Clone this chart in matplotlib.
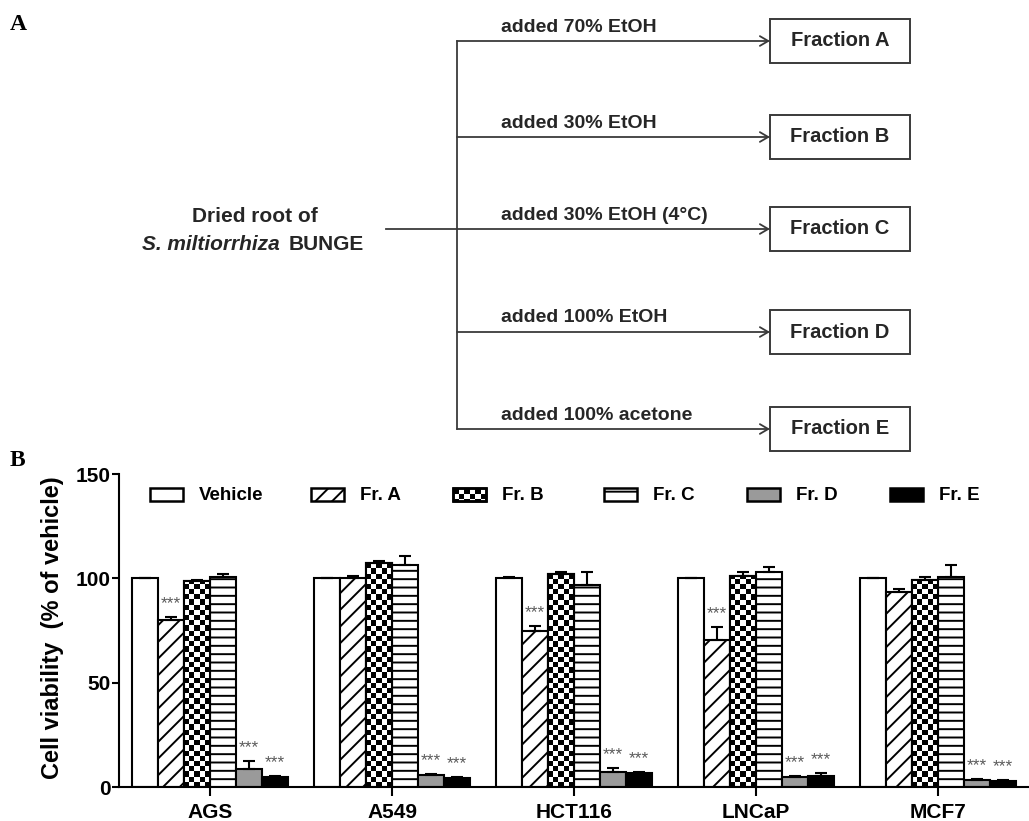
import numpy as np
import matplotlib
matplotlib.use("Agg")
import matplotlib.pyplot as plt
from matplotlib.patches import Rectangle

plt.rcParams['font.family'] = ['Liberation Sans', 'DejaVu Sans']
plt.rcParams['hatch.linewidth'] = 1.4

# panel A: extraction scheme
steps = ['added 70% EtOH', 'added 30% EtOH', 'added 30% EtOH (4°C)',
         'added 100% EtOH', 'added 100% acetone']
fractions = ['Fraction A', 'Fraction B', 'Fraction C', 'Fraction D', 'Fraction E']

# panel B: cell viability
cells = ['AGS', 'A549', 'HCT116', 'LNCaP', 'MCF7']
groups = ['Vehicle', 'Fr. A', 'Fr. B', 'Fr. C', 'Fr. D', 'Fr. E']
vehicle = [100, 100, 100, 100, 100]
fr_a = [80, 100, 75, 70.5, 93.5]
fr_b = [98.5, 107.2, 102, 101, 99]
fr_c = [100.5, 106.5, 97, 102.8, 100.5]
fr_d = [8.6, 5.8, 7.4, 4.7, 3.2]
fr_e = [4.8, 4.4, 6.6, 5.4, 3.0]
err_vehicle = [0, 0, 0.8, 0, 0]
err_a = [1.5, 1.2, 2.0, 6.0, 1.5]
err_b = [0.8, 1.3, 0.9, 2.0, 1.5]
err_c = [1.4, 4.0, 6.0, 2.5, 6.0]
err_d = [3.8, 0.4, 1.6, 0.4, 0.4]
err_e = [0.5, 0.3, 0.5, 1.3, 0.4]
# *** marks (p < 0.001 vs vehicle)
sig_a = [True, False, True, True, False]
sig_d = [True, True, True, True, True]
sig_e = [True, True, True, True, True]

values = [vehicle, fr_a, fr_b, fr_c, fr_d, fr_e]
errors = [err_vehicle, err_a, err_b, err_c, err_d, err_e]
sigs = [None, sig_a, None, None, sig_d, sig_e]

W, H = 1029, 821
fig = plt.figure(figsize=(W / 100, H / 100), dpi=100)

# bar chart axes placed in pixel units
ax_l, ax_r, ax_b, ax_t = 119, 1029, 787, 474
ax = fig.add_axes([ax_l / W, (H - ax_b) / H, (ax_r - ax_l) / W, (ax_b - ax_t) / H])

# overlay for the scheme, panel letters and legend
ov = fig.add_axes([0, 0, 1, 1])
ov.set_xlim(0, W)
ov.set_ylim(H, 0)
ov.axis('off')
ov.patch.set_alpha(0)

# ---- panel A ----
lc = '#3a3a3a'
tc = '#262626'
branch_y = [41, 137, 229, 332, 429]
x_trunk = 457
x_box = 770
box_w, box_h = 140, 44
ov.plot([x_trunk, x_trunk], [branch_y[0], branch_y[-1]], color=lc, lw=1.3)
ov.plot([386, x_trunk], [branch_y[2], branch_y[2]], color=lc, lw=1.3)
for y, s, f in zip(branch_y, steps, fractions):
    ov.annotate('', xy=(x_box, y), xytext=(x_trunk, y),
                arrowprops=dict(arrowstyle='->,head_length=0.6,head_width=0.35',
                                color=lc, lw=1.3, shrinkA=0, shrinkB=0))
    ov.text(501, y - 14, s, fontsize=14, fontweight='bold', color=tc,
            ha='left', va='center')
    ov.add_patch(Rectangle((x_box, y - box_h / 2), box_w, box_h, fill=False,
                           ec=lc, lw=1.4))
    ov.text(x_box + box_w / 2, y, f, fontsize=14.5, fontweight='bold', color=tc,
            ha='center', va='center')

ov.text(255, 217, 'Dried root of', fontsize=15, fontweight='bold', color=tc,
        ha='center', va='center')
ov.text(286, 244, 'S. miltiorrhiza ', fontsize=15, fontweight='bold',
        style='italic', color=tc, ha='right', va='center')
ov.text(289, 244, 'BUNGE', fontsize=15, fontweight='bold', color=tc,
        ha='left', va='center')

ov.text(10, 25, 'A', fontsize=17, fontweight='bold', family='Liberation Serif',
        ha='left', va='center')
ov.text(10, 461, 'B', fontsize=17, fontweight='bold', family='Liberation Serif',
        ha='left', va='center')

# ---- panel B ----
n = len(cells)
bw = 26 / 182
xc = np.arange(n)
ymax = 150
px_per_unit = (ax_b - ax_t) / ymax

styles = [dict(fc='white', hatch=None),
          dict(fc='white', hatch='//'),
          dict(fc='white', hatch=None),
          dict(fc='white', hatch='--'),
          dict(fc='#9a9a9a', hatch=None),
          dict(fc='black', hatch=None)]

cell_units_y = 5.2 / px_per_unit
for j, (vals, errs, st) in enumerate(zip(values, errors, styles)):
    xs = xc + (j - 2.5) * bw
    bars = ax.bar(xs, vals, bw, color=st['fc'], edgecolor='black', lw=1.5,
                  hatch=st['hatch'], zorder=2)
    if j == 2:
        # checkerboard fill for Fr. B
        for b, v in zip(bars, vals):
            nrow = int(np.ceil(v / cell_units_y))
            chk = (np.indices((nrow, 5)).sum(axis=0) % 2).astype(float)
            im = ax.imshow(chk, cmap='gray', origin='lower', aspect='auto',
                           interpolation='nearest', zorder=2.5,
                           extent=[b.get_x(), b.get_x() + bw, 0, nrow * cell_units_y])
            im.set_clip_path(b)
            edge = Rectangle((b.get_x(), 0), bw, v, fill=False, ec='black',
                             lw=1.5, zorder=3)
            ax.add_patch(edge)
    ax.errorbar(xs, vals, yerr=[np.zeros(n), errs], fmt='none', ecolor='black',
                elinewidth=1.5, capsize=4.5, capthick=1.5, zorder=4)
    if sigs[j] is not None:
        for x, v, e, s in zip(xs, vals, errs, sigs[j]):
            if s:
                ax.text(x, v + e + 6.5, '***', fontsize=12.5, color='#5a5a5a',
                        ha='center', va='center', zorder=5)

ax.set_xlim(-0.5, n - 0.5)
ax.set_ylim(0, ymax)
ax.set_yticks([0, 50, 100, 150])
ax.set_xticks(xc)
ax.set_xticklabels(cells, fontsize=15, fontweight='bold')
for lab in ax.get_yticklabels():
    lab.set_fontsize(15)
    lab.set_fontweight('bold')
ax.spines['top'].set_visible(False)
ax.spines['right'].set_visible(False)
ax.spines['left'].set_linewidth(1.5)
ax.spines['bottom'].set_linewidth(1.5)
ax.tick_params(axis='y', length=5, width=1.5, pad=1)
ax.tick_params(axis='x', length=6.5, width=1.5, pad=5)
ax.patch.set_alpha(0)

ov.text(53, 628, 'Cell viability  (% of vehicle)', fontsize=17,
        fontweight='bold', rotation=90, ha='center', va='center')

# legend drawn by hand in pixel units
leg_x = [150, 311, 453, 604, 747, 890]
leg_y = 495
pw, ph = 33, 13
for k, (lx, name, st) in enumerate(zip(leg_x, groups, styles)):
    ov.add_patch(Rectangle((lx, leg_y - ph / 2), pw, ph, fc=st['fc'],
                           hatch='//' if k == 1 else ('-' if k == 3 else None),
                           ec='black', lw=1.8))
    if k == 2:
        cw = pw / 6
        chh = ph / 2.5
        for r in range(3):
            for c in range(6):
                if (r + c) % 2 == 0:
                    y0 = leg_y - ph / 2 + r * chh
                    h = min(chh, leg_y + ph / 2 - y0)
                    ov.add_patch(Rectangle((lx + c * cw, y0), cw, h, fc='black',
                                           ec='none'))
        ov.add_patch(Rectangle((lx, leg_y - ph / 2), pw, ph, fill=False,
                               ec='black', lw=1.8))
    ov.text(lx + pw + 16, leg_y, name, fontsize=13.5, fontweight='bold',
            ha='left', va='center')

fig.savefig('out.png', dpi=100)
